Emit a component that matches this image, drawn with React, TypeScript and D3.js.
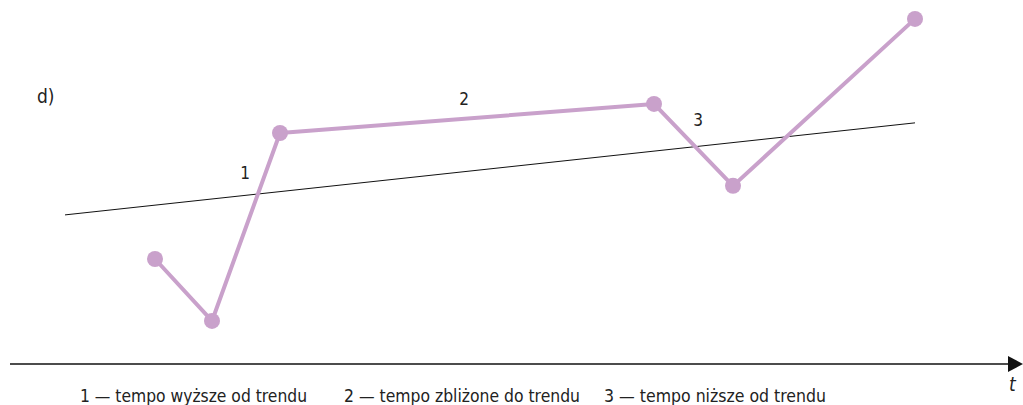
import React, { useRef, useEffect } from 'react';
import * as d3 from 'd3';

// series: time positions and values of the process
const times = [2.9, 4.04, 5.4, 12.88, 14.46, 18.1];
const values = [3.0, 1.23, 6.6, 7.43, 5.09, 9.86];
// trend line end points
const trendTimes = [1.1, 18.1];
const trendValues = [4.26, 6.89];
// segment labels
const segLabels = ['1', '2', '3'];
const segLabelPos = [
  [4.7, 5.3],
  [9.08, 7.4],
  [13.76, 6.8],
];
const legendItems = [
  '1 — tempo wyższe od trendu',
  '2 — tempo zbliżone do trendu',
  '3 — tempo niższe od trendu',
];
const legendX = [80, 344, 604];
const legendW = [227, 236, 222];

const W = 1023;
const H = 405;
const FONT = '"Liberation Sans Narrow", "DejaVu Sans Condensed", "Liberation Sans", sans-serif';

const App = () => {
  const svgRef = useRef<SVGSVGElement>(null);

  useEffect(() => {
    const svg = d3.select(svgRef.current);
    svg.selectAll('*').remove();

    const x = d3.scaleLinear().domain([0, 20]).range([10, 1010]);
    const y = d3.scaleLinear().domain([0, 10]).range([364, 14]);

    // time axis with arrow
    svg.append('line')
      .attr('x1', x(0)).attr('x2', 1010)
      .attr('y1', y(0)).attr('y2', y(0))
      .attr('stroke', '#111').attr('stroke-width', 1.3);
    svg.append('path')
      .attr('d', `M1008,${y(0) - 8} L1023,${y(0)} L1008,${y(0) + 8} Z`)
      .attr('fill', '#111');
    svg.append('text')
      .attr('x', 1009).attr('y', 391)
      .attr('font-family', FONT).attr('font-style', 'italic')
      .attr('font-size', 19).attr('fill', '#222')
      .text('t');

    // trend line
    svg.append('line')
      .attr('x1', x(trendTimes[0])).attr('y1', y(trendValues[0]))
      .attr('x2', x(trendTimes[1])).attr('y2', y(trendValues[1]))
      .attr('stroke', '#111').attr('stroke-width', 1);

    const pts = times.map((t, i) => [t, values[i]] as [number, number]);
    const line = d3.line<[number, number]>().x(d => x(d[0])).y(d => y(d[1]));

    svg.append('path')
      .attr('d', line(pts))
      .attr('fill', 'none')
      .attr('stroke', '#c9a1cb')
      .attr('stroke-width', 4)
      .attr('stroke-linejoin', 'round');

    svg.selectAll('circle')
      .data(pts)
      .enter()
      .append('circle')
      .attr('cx', d => x(d[0]))
      .attr('cy', d => y(d[1]))
      .attr('r', 8)
      .attr('fill', '#c9a1cb');

    // segment labels
    svg.selectAll('text.seg')
      .data(segLabels)
      .enter()
      .append('text')
      .attr('class', 'seg')
      .attr('x', (d, i) => x(segLabelPos[i][0]))
      .attr('y', (d, i) => y(segLabelPos[i][1]))
      .attr('text-anchor', 'middle')
      .attr('font-family', FONT)
      .attr('font-size', 17)
      .attr('fill', '#222')
      .text(d => d);

    // panel letter
    svg.append('text')
      .attr('x', 37).attr('y', 103)
      .attr('font-family', FONT)
      .attr('font-size', 19)
      .attr('fill', '#222')
      .text('d)');

    // legend
    svg.selectAll('text.leg')
      .data(legendItems)
      .enter()
      .append('text')
      .attr('class', 'leg')
      .attr('x', (d, i) => legendX[i])
      .attr('y', 402)
      .attr('textLength', (d, i) => legendW[i])
      .attr('lengthAdjust', 'spacingAndGlyphs')
      .attr('font-family', FONT)
      .attr('font-size', 18)
      .attr('fill', '#222')
      .text(d => d);
  }, []);

  return (
    <svg
      ref={svgRef}
      width={W}
      height={H}
      style={{ position: 'absolute', left: 0, top: 0, background: '#fff' }}
    />
  );
};

export default App;
